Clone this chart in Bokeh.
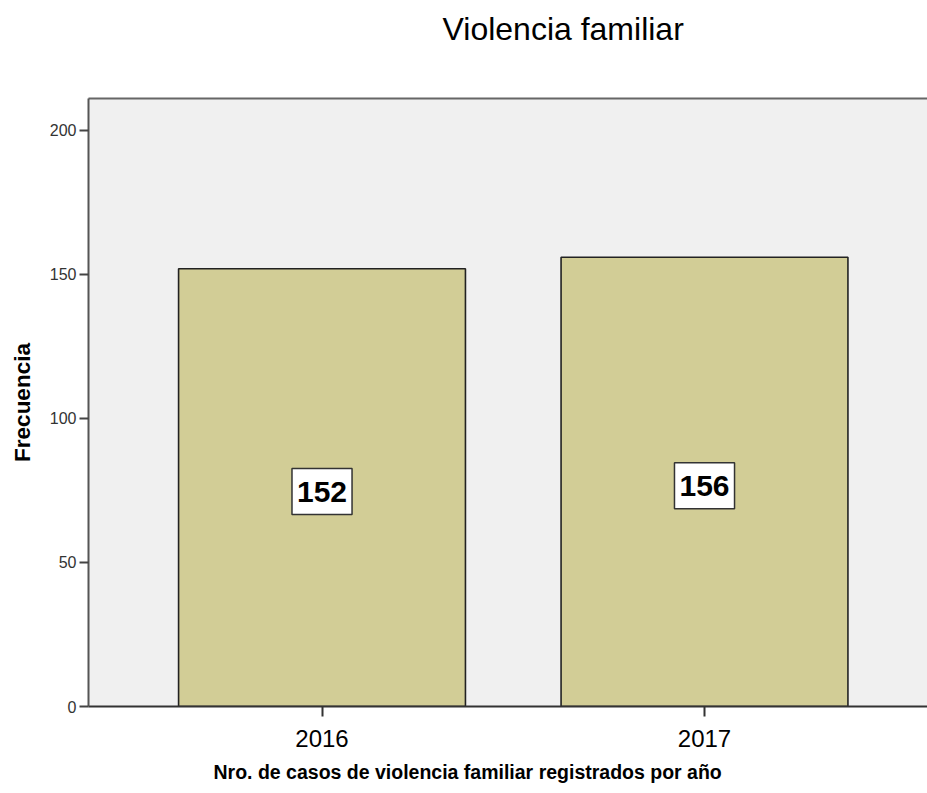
from bokeh.plotting import figure
from bokeh.models import ColumnDataSource, FixedTicker, LinearAxis, Range1d, Title
from bokeh.core.properties import value
from bokeh.embed import file_html
from bokeh.resources import INLINE

# data
years = ["2016", "2017"]
counts = [152, 156]
y_ticks = [0, 50, 100, 150, 200]

FONT = "Liberation Sans"

xpos = list(range(len(years)))
src = ColumnDataSource(dict(
    x=xpos,
    top=counts,
    mid=[c / 2 for c in counts],
    txt=[str(c) for c in counts],
))

p = figure(width=927, height=793, output_backend="svg", toolbar_location=None,
           x_range=Range1d(-0.6105, 1.583), y_range=Range1d(0, 211.1),
           min_border_left=88, min_border_top=98, min_border_bottom=87,
           min_border_right=0, background_fill_color="#F0F0F0",
           border_fill_color="white", outline_line_color=None)

p.title = Title(text="Violencia familiar", align="left", offset=354,
                vertical_align="top",
                text_font=FONT, text_font_size="32px", text_font_style="normal",
                text_color="#000000", standoff=10)

p.vbar(x="x", top="top", width=0.75, source=src, fill_color="#D2CD96",
       line_color="#222222", line_width=1.6)

p.text(x="x", y="mid", text="txt", source=src, y_offset=4,
       text_align="center", text_baseline="middle",
       text_font=value(FONT), text_font_size=value("30px"), text_font_style="bold",
       text_color="#000000", background_fill_color="white",
       border_line_color="#333333", border_line_width=1.5, padding=(5, 13))

p.xgrid.visible = False
p.ygrid.visible = False

# x axis
xa = p.xaxis[0]
xa.ticker = FixedTicker(ticks=xpos)
xa.major_label_overrides = {i: y for i, y in zip(xpos, years)}
xa.major_label_text_font = FONT
xa.major_label_text_font_size = "24px"
xa.major_label_text_color = "#000000"
xa.major_tick_out = 10
xa.major_tick_in = 0
xa.minor_tick_out = 0
xa.minor_tick_in = 0
xa.major_tick_line_color = "#333333"
xa.major_tick_line_width = 2
xa.major_label_standoff = 13
xa.axis_line_color = "#333333"
xa.axis_line_width = 2

# x axis title (placed as a bottom title so it can sit left of centre like the reference)
p.add_layout(Title(text="Nro. de casos de violencia familiar registrados por año",
                   align="left", offset=125, text_font=FONT, text_font_size="19.5px",
                   text_font_style="bold", text_color="#000000", standoff=18), "below")

# y axis
ya = p.yaxis[0]
ya.ticker = FixedTicker(ticks=y_ticks)
ya.major_label_text_font = FONT
ya.major_label_text_font_size = "16px"
ya.major_label_text_color = "#333333"
ya.major_tick_out = 9
ya.major_tick_in = 0
ya.minor_tick_out = 0
ya.minor_tick_in = 0
ya.major_tick_line_color = "#444444"
ya.major_tick_line_width = 2
ya.major_label_standoff = 3
ya.axis_line_color = "#555555"
ya.axis_line_width = 2
ya.axis_label = "Frecuencia"
ya.axis_label_text_font = FONT
ya.axis_label_text_font_size = "22.5px"
ya.axis_label_text_font_style = "bold"
ya.axis_label_text_color = "#000000"
ya.axis_label_standoff = 12

# top border (its blank label only reserves the gap between title and plot)
top_ax = LinearAxis(ticker=FixedTicker(ticks=[]), major_label_text_font_size="0px",
                    major_tick_out=0, major_tick_in=0, minor_tick_out=0, minor_tick_in=0,
                    major_label_standoff=0, axis_line_color="#666666", axis_line_width=2,
                    axis_label=" ", axis_label_text_font_size="10px",
                    axis_label_standoff=31)
p.add_layout(top_ax, "above")

open("out.html", "w").write(file_html(p, INLINE))
